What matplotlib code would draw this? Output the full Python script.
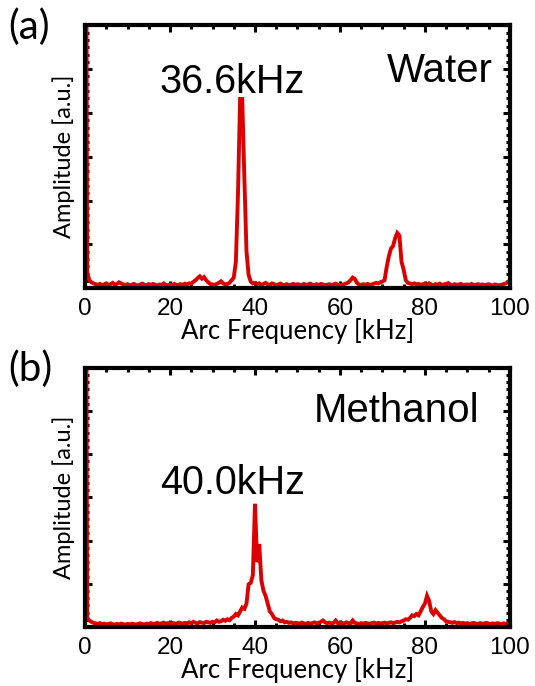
import numpy as np
import matplotlib
matplotlib.use('Agg')
import matplotlib.pyplot as plt
from matplotlib.ticker import MultipleLocator, AutoMinorLocator

# frequency grid [kHz], 0.5 kHz step
freq = np.linspace(0, 100, 201)

# water spectrum (normalised to axis height)
water = [
    3.0, 0.06, 0.03, 0.022, 0.018, 0.015, 0.012, 0.016, 0.011, 0.014,
    0.018, 0.012, 0.015, 0.02, 0.013, 0.016, 0.022, 0.018, 0.014, 0.012,
    0.015, 0.011, 0.013, 0.016, 0.012, 0.010, 0.014, 0.017, 0.013, 0.011,
    0.015, 0.012, 0.016, 0.013, 0.010, 0.014, 0.012, 0.018, 0.013, 0.011,
    0.014, 0.012, 0.016, 0.011, 0.013, 0.015, 0.012, 0.017, 0.014, 0.018,
    0.016, 0.024, 0.03, 0.038, 0.045, 0.036, 0.042, 0.03, 0.022, 0.016,
    0.014, 0.012, 0.016, 0.02, 0.026, 0.018, 0.014, 0.016, 0.02, 0.03,
    0.04, 0.10, 0.36, 0.72, 0.72, 0.42, 0.14, 0.05, 0.025, 0.018,
    0.02, 0.015, 0.018, 0.012, 0.016, 0.02, 0.014, 0.012, 0.018, 0.015,
    0.011, 0.014, 0.017, 0.013, 0.012, 0.015, 0.011, 0.013, 0.016, 0.012,
    0.015, 0.013, 0.011, 0.016, 0.012, 0.014, 0.017, 0.013, 0.011, 0.015,
    0.012, 0.016, 0.014, 0.011, 0.013, 0.015, 0.012, 0.014, 0.017, 0.013,
    0.013, 0.012, 0.015, 0.018, 0.022, 0.03, 0.04, 0.035, 0.02, 0.014,
    0.012, 0.015, 0.013, 0.016, 0.012, 0.014, 0.017, 0.02, 0.018, 0.022,
    0.025, 0.03, 0.08, 0.12, 0.15, 0.16, 0.19, 0.21, 0.20, 0.10,
    0.07, 0.03, 0.02, 0.018, 0.015, 0.018, 0.014, 0.016, 0.013, 0.015,
    0.016, 0.012, 0.018, 0.014, 0.011, 0.015, 0.013, 0.017, 0.012, 0.014,
    0.016, 0.019, 0.013, 0.011, 0.015, 0.012, 0.014, 0.016, 0.011, 0.013,
    0.014, 0.012, 0.016, 0.011, 0.013, 0.015, 0.012, 0.014, 0.011, 0.013,
    0.015, 0.012, 0.010, 0.014, 0.012, 0.011, 0.013, 0.015, 0.018, 0.022,
    0.03,
]

# methanol spectrum
methanol = [
    3.0, 0.035, 0.025, 0.02, 0.016, 0.014, 0.012, 0.015, 0.011, 0.013,
    0.01, 0.012, 0.014, 0.011, 0.009, 0.012, 0.01, 0.013, 0.011, 0.009,
    0.012, 0.01, 0.013, 0.011, 0.009, 0.012, 0.014, 0.011, 0.01, 0.013,
    0.012, 0.015, 0.011, 0.013, 0.016, 0.012, 0.014, 0.017, 0.013, 0.015,
    0.013, 0.016, 0.014, 0.012, 0.017, 0.015, 0.013, 0.016, 0.014, 0.018,
    0.015, 0.02, 0.016, 0.014, 0.019, 0.017, 0.015, 0.02, 0.018, 0.016,
    0.02, 0.018, 0.025, 0.02, 0.022, 0.028, 0.024, 0.03, 0.026, 0.035,
    0.04, 0.05, 0.045, 0.06, 0.075, 0.07, 0.09, 0.165, 0.17, 0.2,
    0.475, 0.25, 0.32, 0.18, 0.14, 0.12, 0.09, 0.06, 0.05, 0.035,
    0.03, 0.028, 0.022, 0.025, 0.018, 0.02, 0.016, 0.018, 0.014, 0.016,
    0.015, 0.013, 0.017, 0.014, 0.012, 0.016, 0.013, 0.015, 0.018, 0.014,
    0.016, 0.02, 0.025, 0.018, 0.015, 0.017, 0.014, 0.016, 0.025, 0.015,
    0.014, 0.016, 0.013, 0.018, 0.015, 0.013, 0.025, 0.016, 0.014, 0.012,
    0.015, 0.013, 0.016, 0.014, 0.012, 0.015, 0.017, 0.013, 0.016, 0.014,
    0.015, 0.017, 0.014, 0.016, 0.018, 0.015, 0.017, 0.02, 0.018, 0.022,
    0.025, 0.03, 0.028, 0.035, 0.045, 0.042, 0.05, 0.045, 0.06, 0.077,
    0.09, 0.12, 0.1, 0.06, 0.05, 0.065, 0.055, 0.045, 0.035, 0.03,
    0.022, 0.02, 0.018, 0.016, 0.019, 0.015, 0.017, 0.014, 0.016, 0.013,
    0.015, 0.012, 0.014, 0.016, 0.013, 0.011, 0.015, 0.012, 0.014, 0.016,
    0.013, 0.011, 0.014, 0.012, 0.015, 0.013, 0.011, 0.014, 0.012, 0.015,
    0.02,
]

# (tag, data, peak label, sample name, axes rect, peak-label pos, name pos)
panels = [
    ('(a)', water, '36.6kHz', 'Water', [0.159, 0.580, 0.794, 0.383],
     (0.176, 0.741), (0.960, 0.783)),
    ('(b)', methanol, '40.0kHz', 'Methanol', [0.159, 0.086, 0.794, 0.378],
     (0.176, 0.514), (0.929, 0.791)),
]

red = '#dc0000'
label_font = 'Lato'
tick_font = 'Liberation Sans'

fig = plt.figure(figsize=(5.35, 6.86), dpi=100)

for tag, amp, peak_txt, name, rect, ppos, npos in panels:
    ax = fig.add_axes(rect)
    ax.plot(freq, amp, color=red, lw=2.8, solid_joinstyle='miter')
    ax.set_xlim(0, 100)
    ax.set_ylim(0, 1)

    ax.xaxis.set_major_locator(MultipleLocator(20))
    ax.xaxis.set_minor_locator(MultipleLocator(5))
    ax.yaxis.set_major_locator(MultipleLocator(1 / 6))
    ax.yaxis.set_minor_locator(AutoMinorLocator(6))
    ax.tick_params(which='both', direction='in', top=True, right=True,
                   width=2.2, color='black')
    ax.tick_params(which='major', length=5)
    ax.tick_params(which='minor', length=3)
    ax.tick_params(axis='x', labelsize=17.5, pad=7)
    ax.set_yticklabels([])
    for lbl in ax.get_xticklabels():
        lbl.set_fontfamily(tick_font)
    for sp in ax.spines.values():
        sp.set_linewidth(3)

    ax.set_xlabel('Arc Frequency [kHz]', fontsize=18.5, family=label_font, labelpad=-1)
    ax.set_ylabel('Amplitude [a.u.]', fontsize=17, family=label_font, labelpad=4)

    ax.text(ppos[0], ppos[1], peak_txt, transform=ax.transAxes, fontsize=28.5,
            family=tick_font)
    ax.text(npos[0], npos[1], name, transform=ax.transAxes, fontsize=29,
            family=tick_font, ha='right')

    box = ax.get_position()
    fig.text(0.015, box.y1 + 0.025, tag, fontsize=29, family=label_font,
             va='top', ha='left')

fig.savefig('out.png', dpi=100)
